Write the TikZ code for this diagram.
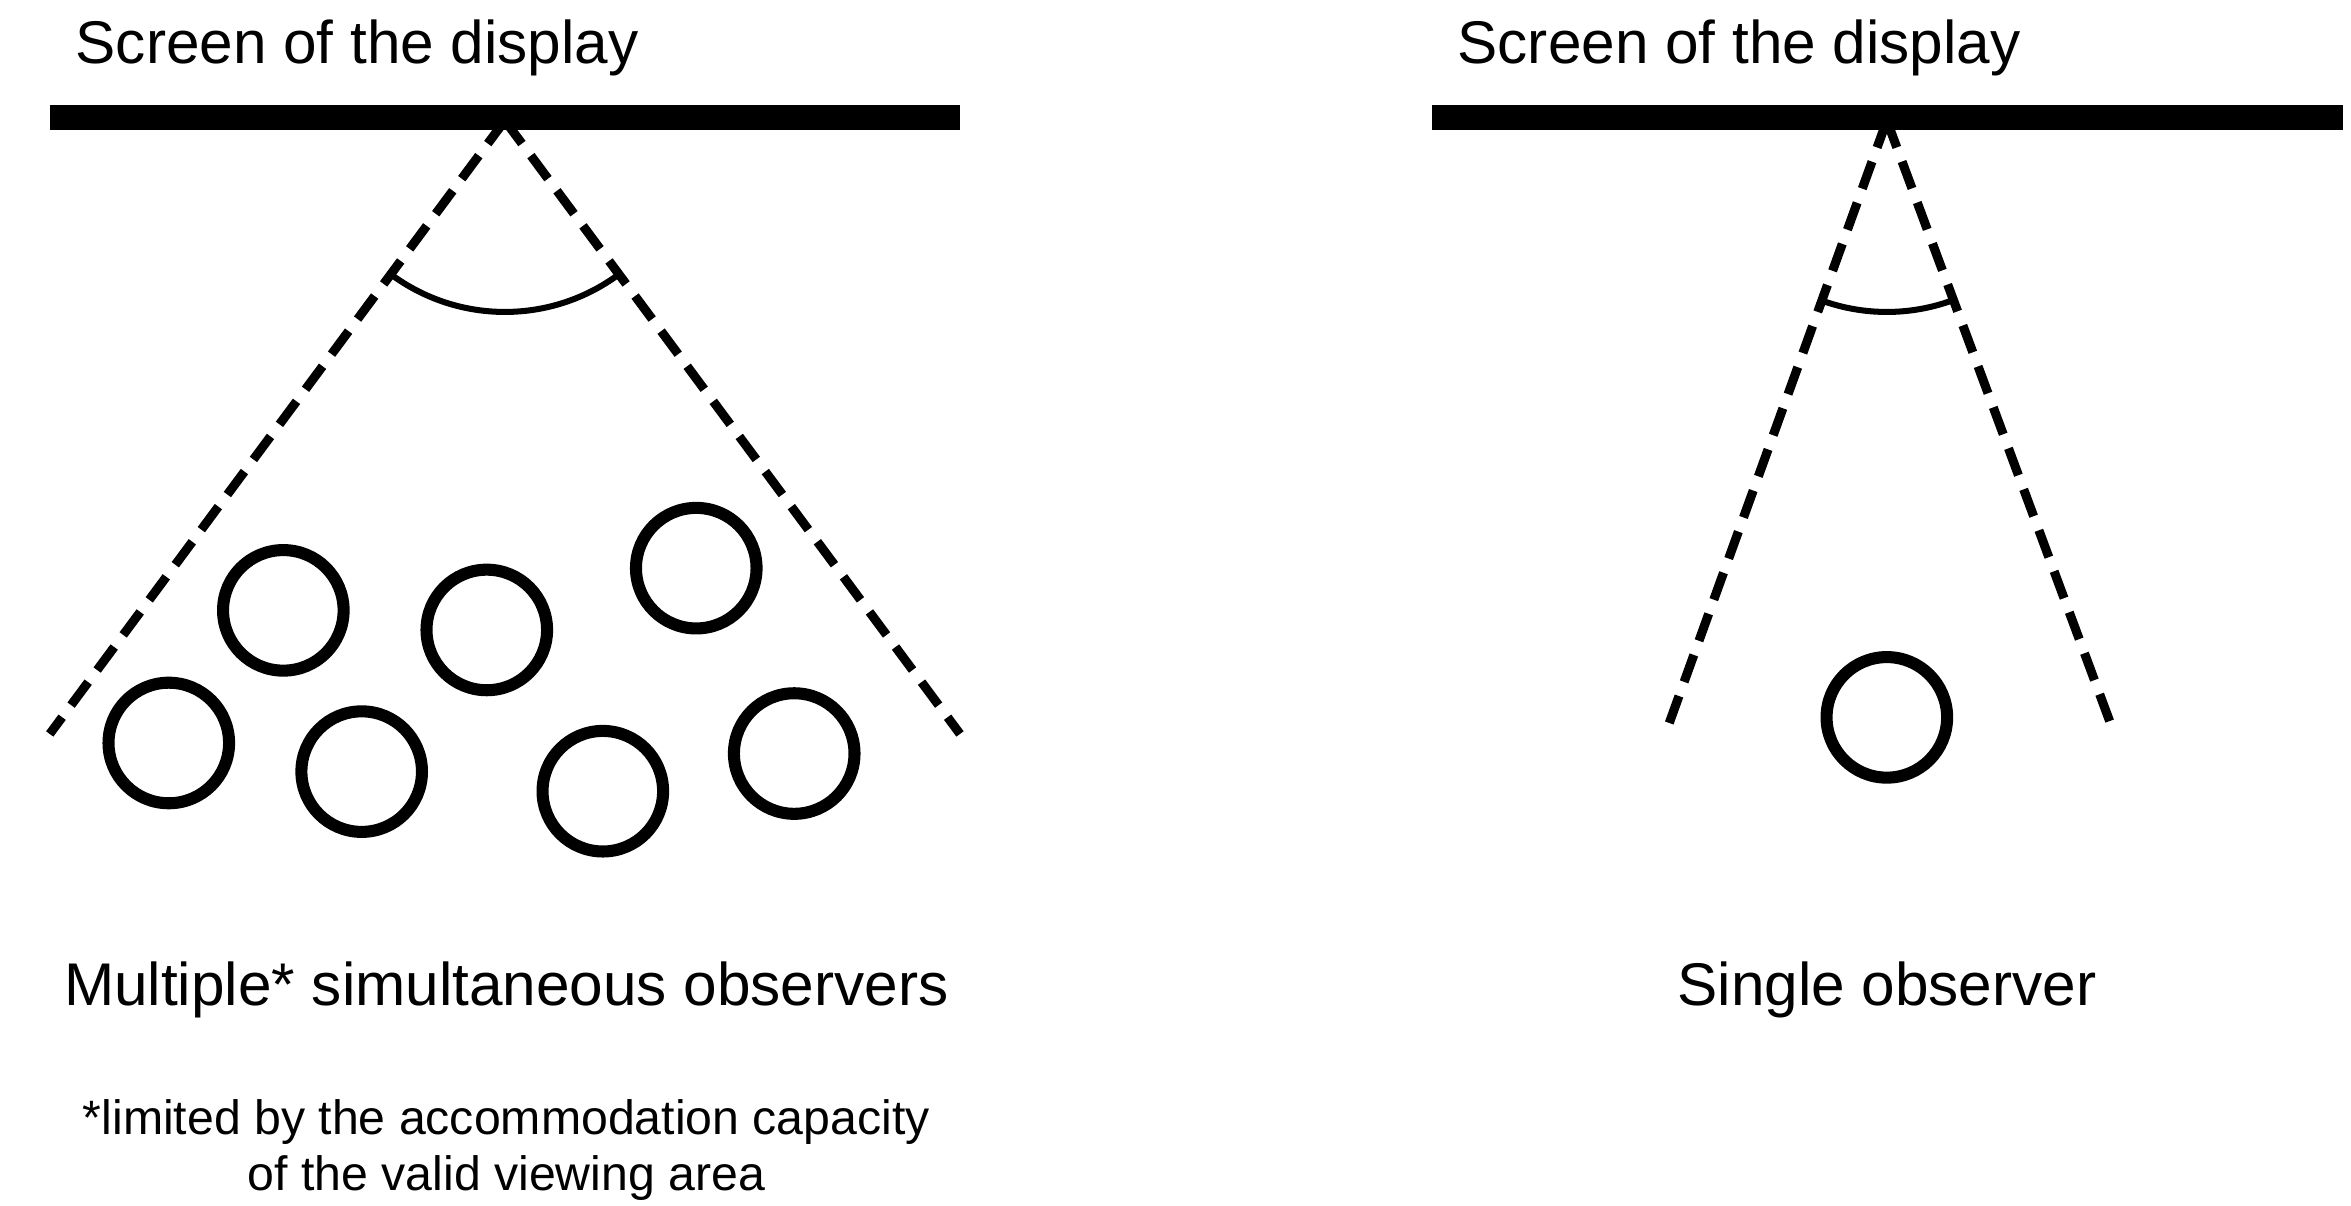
\documentclass[tikz,border=0pt]{standalone}
\usepackage{fontspec}
\setmainfont{Liberation Sans}
\begin{document}
\begin{tikzpicture}[x=1pt,y=-1pt,
  bar/.style={line width=17pt},
  dashline/.style={line width=6pt,dash pattern=on 19pt off 10pt},
  obs/.style={circle,draw,line width=8pt,minimum size=80pt,inner sep=0pt},
  big/.style={font=\fontsize{40}{48}\selectfont,inner sep=0pt},
  small/.style={font=\fontsize{32}{37}\selectfont,inner sep=0pt,align=center}]
\useasboundingbox (0,0) rectangle (1560,800);
% left
\coordinate (la) at (33,78); \coordinate (lb) at (637,78);
\draw[bar] (la) -- (lb);
\coordinate (lp) at (335,80);
\coordinate (l1) at (33,487); \coordinate (l2) at (637,487);
\draw[dashline] (lp) -- (l1);
\draw[dashline] (lp) -- (l2);
\draw[line width=4pt] (lp) ++(53.4:127) arc[start angle=53.4,end angle=126.6,radius=127];
\node[big,anchor=base west] (lt) at (50,42) {Screen of the display};
\foreach \n/\x/\y in {a/188/405,b/323/418,c/462/377,d/112/493,e/240/512,f/400/525,g/527/500}
  \node[obs] (\n) at (\x,\y) {};
\node[big] (lm) at (336,657) {Multiple* simultaneous observers};
\node[small] (lf) at (336,763) {*limited by the accommodation capacity\\of the valid viewing area};
% right
\coordinate (ra) at (950,78); \coordinate (rb) at (1555,78);
\draw[bar] (ra) -- (rb);
\coordinate (rp) at (1252,80);
\coordinate (r1) at (1105,487); \coordinate (r2) at (1403,487);
\draw[dashline] (rp) -- (r1);
\draw[dashline] (rp) -- (r2);
\draw[line width=4pt] (rp) ++(70.4:127) arc[start angle=70.4,end angle=109.9,radius=127];
\node[big,anchor=base west] (rt) at (967,42) {Screen of the display};
\node[obs] (s) at (1252,476) {};
\node[big] (rm) at (1252,657) {Single observer};
\end{tikzpicture}
\end{document}
